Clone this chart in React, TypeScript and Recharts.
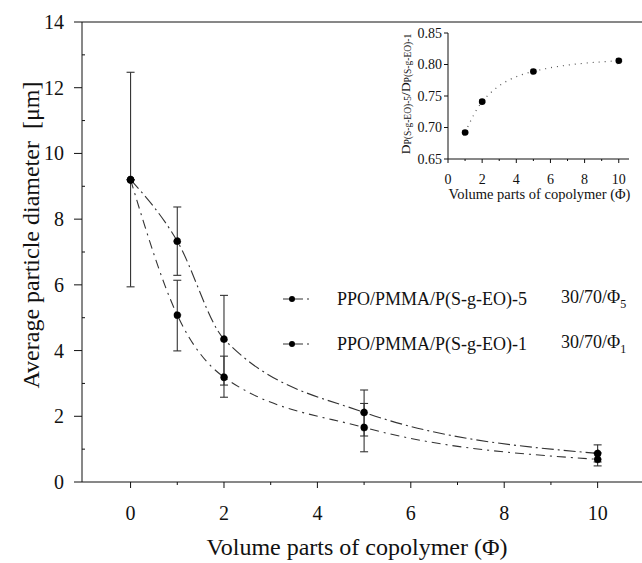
import React from 'react';
import {
  ComposedChart,
  Line,
  XAxis,
  YAxis,
  ErrorBar,
  ReferenceLine,
  Legend,
} from 'recharts';

// Copolymer volume parts (Φ)
const phi = [0, 1, 2, 5, 10];

// PPO/PMMA/P(S-g-EO)-5 30/70/Φ5 — average particle diameter [µm] and error (low, high)
const diamPhi5 = [9.2, 7.33, 4.35, 2.12, 0.87];
const errPhi5: [number, number][] = [
  [3.26, 3.27],
  [1.04, 1.04],
  [1.4, 1.33],
  [0.72, 0.68],
  [0.26, 0.26],
];

// PPO/PMMA/P(S-g-EO)-1 30/70/Φ1
const diamPhi1 = [9.2, 5.08, 3.19, 1.66, 0.69];
const errPhi1: [number, number][] = [
  [0, 0],
  [1.09, 1.06],
  [0.61, 0.64],
  [0.74, 0.73],
  [0.2, 0.2],
];

// Inset: diameter ratio D(S-g-EO)-5 / D(S-g-EO)-1
const insetPhi = [1, 2, 5, 10];
const insetRatio = [0.692, 0.741, 0.789, 0.806];

const xTicks = [0, 1, 2, 3, 4, 5, 6, 7, 8, 9, 10];
const yTicks = [0, 1, 2, 3, 4, 5, 6, 7, 8, 9, 10, 11, 12, 13, 14];
const insetXTicks = [0, 1, 2, 3, 4, 5, 6, 7, 8, 9, 10];
const insetYTicks = [0.65, 0.7, 0.75, 0.8, 0.85];

const seriesMeta = [
  { name: 'PPO/PMMA/P(S-g-EO)-5', ratio: '30/70/Φ', sub: '5', dash: '12 4 2 4' },
  { name: 'PPO/PMMA/P(S-g-EO)-1', ratio: '30/70/Φ', sub: '1', dash: '9 5 2 5' },
];

const s5Data = phi.map((x, i) => ({ x, y: diamPhi5[i], err: errPhi5[i] }));
const s1Data = phi.map((x, i) => ({ x, y: diamPhi1[i], err: errPhi1[i] }));
const insetData = insetPhi.map((x, i) => ({ x, r: insetRatio[i] }));

const FONT = '"Liberation Serif", "Times New Roman", serif';
const INK = '#111';

const MainXTick = (props: any) => {
  const { x, y, payload } = props;
  const v = payload.value as number;
  const major = v % 2 === 0;
  return (
    <g>
      <line x1={x} x2={x} y1={y} y2={y + (major ? 6 : 3)} stroke={INK} strokeWidth={1} />
      {major && (
        <text x={x} y={y + 38} textAnchor="middle" fontSize={20} fontFamily={FONT} fill={INK}>
          {v}
        </text>
      )}
    </g>
  );
};

const MainYTick = (props: any) => {
  const { x, y, payload } = props;
  const v = payload.value as number;
  const major = v % 2 === 0;
  return (
    <g>
      {major ? (
        <line x1={x - 8} x2={x} y1={y} y2={y} stroke={INK} strokeWidth={1} />
      ) : (
        <line x1={x} x2={x + 3} y1={y} y2={y} stroke={INK} strokeWidth={1} />
      )}
      {major && (
        <text x={x - 18} y={y} dy="0.35em" textAnchor="end" fontSize={20} fontFamily={FONT} fill={INK}>
          {v}
        </text>
      )}
    </g>
  );
};

const InsetXTick = (props: any) => {
  const { x, y, payload } = props;
  const v = payload.value as number;
  const major = v % 2 === 0;
  return (
    <g>
      <line x1={x} x2={x} y1={y} y2={y + (major ? 4 : 2)} stroke={INK} strokeWidth={1} />
      {major && (
        <text x={x} y={y + 25} textAnchor="middle" fontSize={14} fontFamily={FONT} fill={INK}>
          {v}
        </text>
      )}
    </g>
  );
};

const InsetYTick = (props: any) => {
  const { x, y, payload } = props;
  const v = payload.value as number;
  return (
    <g>
      <line x1={x - 4} x2={x} y1={y} y2={y} stroke={INK} strokeWidth={1} />
      <text x={x - 6} y={y} dy="0.35em" textAnchor="end" fontSize={14} fontFamily={FONT} fill={INK}>
        {v.toFixed(2)}
      </text>
    </g>
  );
};

const LegendBox = (props: any) => {
  const payload: any[] = props.payload || [];
  // keep the series in their declared order
  const ordered = seriesMeta.map((m) => ({
    meta: m,
    entry: payload.find((p: any) => p.value === m.name),
  }));
  return (
    <div style={{ fontFamily: FONT, color: INK, fontSize: 18 }}>
      {ordered.map(({ meta, entry }, i) => (
        <div
          key={meta.name}
          style={{ display: 'flex', alignItems: 'center', height: 24, marginBottom: i === 0 ? 21 : 0 }}
        >
          <svg width={26} height={12} style={{ marginRight: 28 }}>
            <line
              x1={0}
              x2={26}
              y1={6}
              y2={6}
              stroke={(entry && entry.color) || '#333'}
              strokeWidth={1.2}
              strokeDasharray="8 4"
            />
            <circle cx={9} cy={6} r={3} fill="#000" />
          </svg>
          <span style={{ whiteSpace: 'pre' }}>{meta.name}</span>
          <span style={{ marginLeft: 34, whiteSpace: 'pre' }}>
            {meta.ratio}
            <sub style={{ fontSize: 12 }}>{meta.sub}</sub>
          </span>
        </div>
      ))}
    </div>
  );
};

export default function App() {
  return (
    <div
      style={{
        position: 'absolute',
        left: 0,
        top: 0,
        width: 642,
        height: 563,
        background: '#fff',
        fontFamily: FONT,
      }}
    >
      <ComposedChart width={642} height={563} margin={{ top: 22, right: 0, bottom: 0, left: 0 }}>
        <XAxis
          dataKey="x"
          type="number"
          domain={[-1.04, 10.95]}
          allowDataOverflow
          ticks={xTicks}
          interval={0}
          tickSize={0}
          tickMargin={0}
          tickLine={false}
          tick={<MainXTick />}
          height={81}
          axisLine={{ stroke: INK, strokeWidth: 1 }}
          label={(p: any) => {
            const vb = p.viewBox || { x: 82, y: 482, width: 560, height: 81 };
            return (
              <text
                x={vb.x + vb.width / 2 - 5}
                y={vb.y + vb.height - 8}
                textAnchor="middle"
                fontSize={24}
                fontFamily={FONT}
                fill={INK}
              >
                Volume parts of copolymer (Φ)
              </text>
            );
          }}
        />
        <YAxis
          type="number"
          domain={[0, 14]}
          ticks={yTicks}
          interval={0}
          tickSize={0}
          tickMargin={0}
          tickLine={false}
          tick={<MainYTick />}
          width={82}
          axisLine={{ stroke: INK, strokeWidth: 1 }}
          label={(p: any) => {
            const vb = p.viewBox || { x: 0, y: 22, width: 82, height: 460 };
            const cx = 31;
            const cy = vb.y + vb.height / 2 - 17;
            return (
              <text
                x={cx}
                y={cy}
                transform={`rotate(-90 ${cx} ${cy})`}
                textAnchor="middle"
                dominantBaseline="central"
                fontSize={24}
                fontFamily={FONT}
                fill={INK}
                style={{ whiteSpace: 'pre' }}
              >
                {'Average particle diameter  [μm]'}
              </text>
            );
          }}
        />
        <ReferenceLine y={14} stroke={INK} strokeWidth={1} />
        <Legend
          layout="vertical"
          align="center"
          verticalAlign="middle"
          content={<LegendBox />}
          wrapperStyle={{ position: 'absolute', left: 283, top: 287, width: 359, height: 70 }}
        />
        <Line
          name={seriesMeta[0].name}
          data={s5Data}
          dataKey="y"
          type="monotone"
          stroke="#333"
          strokeWidth={1.1}
          strokeDasharray={seriesMeta[0].dash}
          dot={{ r: 3.6, fill: '#000', stroke: '#000', strokeWidth: 0.5 }}
          isAnimationActive={false}
        >
          <ErrorBar dataKey="err" direction="y" width={4} stroke="#333" strokeWidth={1.1} />
        </Line>
        <Line
          name={seriesMeta[1].name}
          data={s1Data}
          dataKey="y"
          type="monotone"
          stroke="#333"
          strokeWidth={1.1}
          strokeDasharray={seriesMeta[1].dash}
          dot={{ r: 3.6, fill: '#000', stroke: '#000', strokeWidth: 0.5 }}
          isAnimationActive={false}
        >
          <ErrorBar dataKey="err" direction="y" width={4} stroke="#333" strokeWidth={1.1} />
        </Line>
      </ComposedChart>

      <div style={{ position: 'absolute', left: 380, top: 0 }}>
        <ComposedChart width={262} height={205} data={insetData} margin={{ top: 33, right: 13, bottom: 0, left: 0 }}>
          <XAxis
            dataKey="x"
            type="number"
            domain={[0, 10.6]}
            allowDataOverflow
            ticks={insetXTicks}
            interval={0}
            tickSize={0}
            tickMargin={0}
            tickLine={false}
            tick={<InsetXTick />}
            height={46}
            axisLine={{ stroke: INK, strokeWidth: 1 }}
            label={(p: any) => {
              const vb = p.viewBox || { x: 68, y: 159, width: 181, height: 46 };
              return (
                <text
                  x={vb.x + vb.width / 2 + 1}
                  y={vb.y + 40}
                  textAnchor="middle"
                  fontSize={14.5}
                  fontFamily={FONT}
                  fill={INK}
                >
                  Volume parts of copolymer (Φ)
                </text>
              );
            }}
          />
          <XAxis xAxisId="frameTop" orientation="top" type="number" domain={[0, 10.6]} height={0} tick={false} tickLine={false} axisLine={{ stroke: INK, strokeWidth: 1 }} />
          <YAxis
            type="number"
            domain={[0.65, 0.85]}
            ticks={insetYTicks}
            interval={0}
            tickSize={0}
            tickMargin={0}
            tickLine={false}
            tick={<InsetYTick />}
            width={68}
            axisLine={{ stroke: INK, strokeWidth: 1 }}
            label={(p: any) => {
              const vb = p.viewBox || { x: 0, y: 33, width: 68, height: 126 };
              const cx = 25;
              const cy = vb.y + vb.height / 2 - 2;
              return (
                <text
                  x={cx}
                  y={cy}
                  transform={`rotate(-90 ${cx} ${cy})`}
                  textAnchor="middle"
                  dominantBaseline="central"
                  fontSize={13.5}
                  fontFamily={FONT}
                  fill={INK}
                >
                  D<tspan fontSize={9.5} dy={3}>P(S-g-EO)-5</tspan>
                  <tspan dy={-3}>/D</tspan>
                  <tspan fontSize={9.5} dy={3}>P(S-g-EO)-1</tspan>
                </text>
              );
            }}
          />
          <YAxis yAxisId="frameRight" orientation="right" type="number" domain={[0.65, 0.85]} width={0} tick={false} tickLine={false} axisLine={{ stroke: INK, strokeWidth: 1 }} />
          <Line
            dataKey="r"
            type="monotone"
            stroke="#555"
            strokeWidth={1.2}
            strokeDasharray="1 5"
            dot={{ r: 3.3, fill: '#000', stroke: '#000', strokeWidth: 0.5 }}
            isAnimationActive={false}
          />
        </ComposedChart>
      </div>
    </div>
  );
}
